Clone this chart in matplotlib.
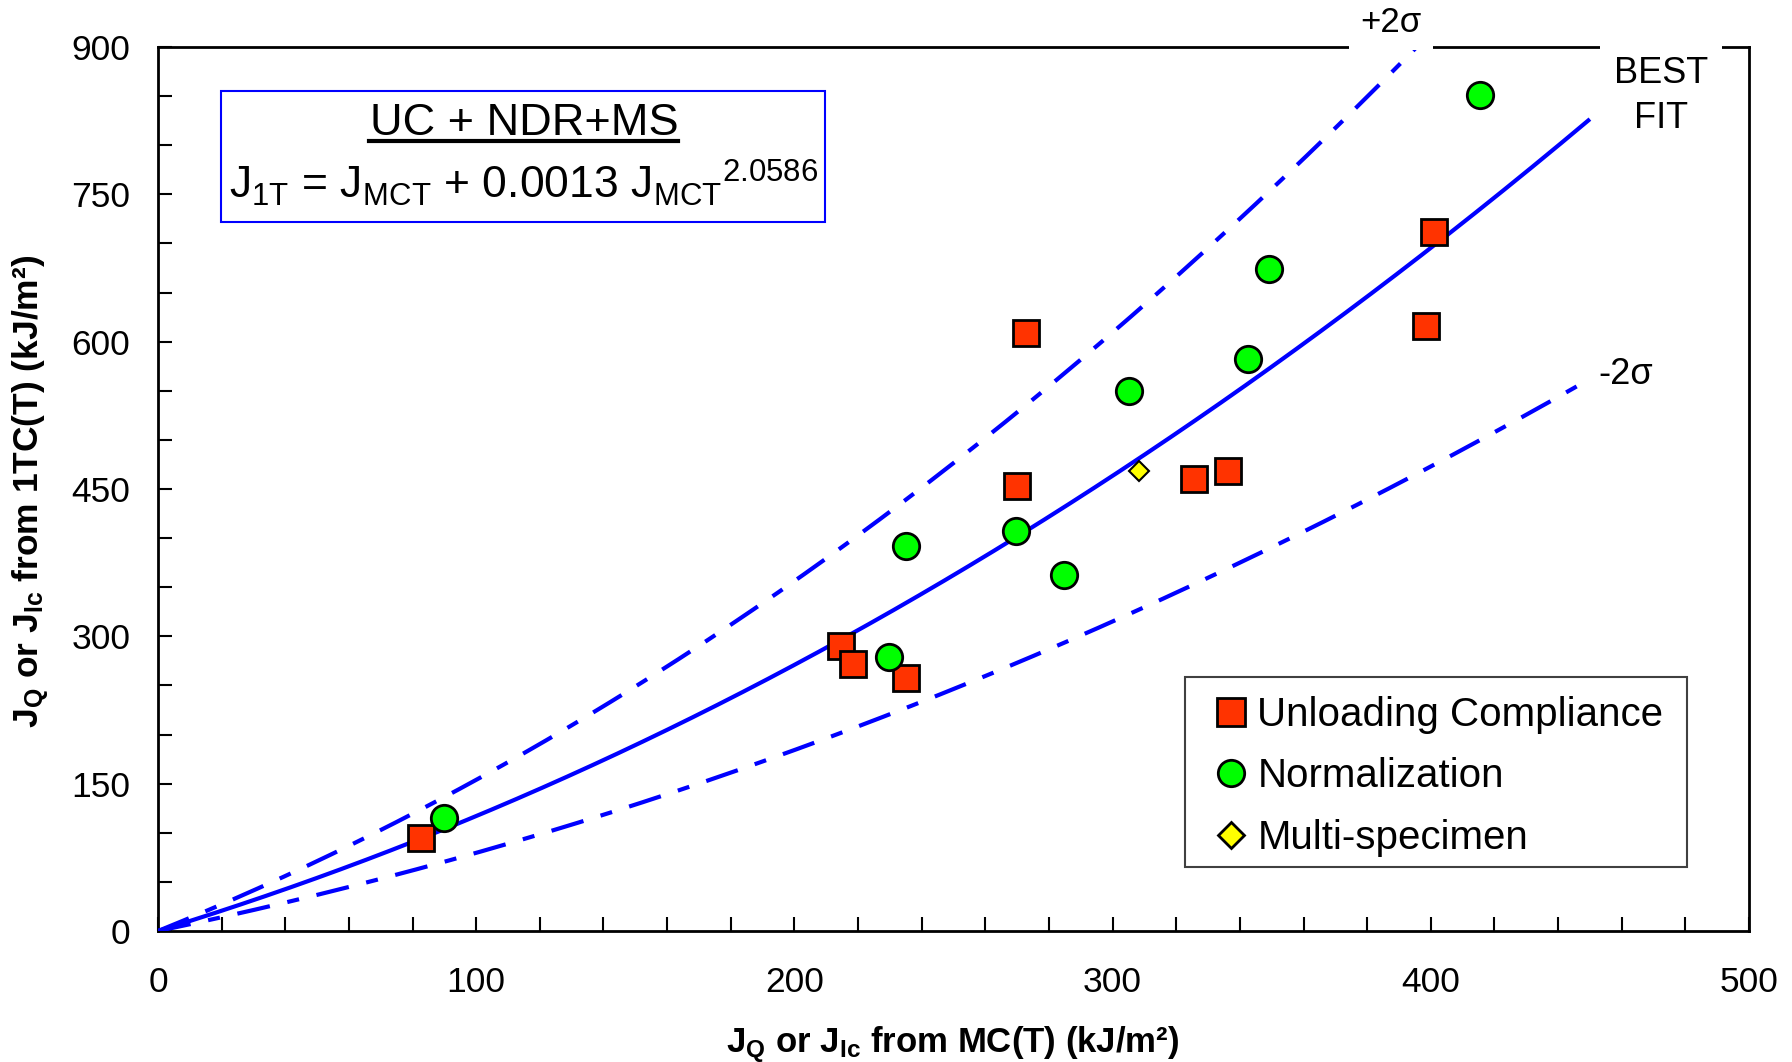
import numpy as np
import matplotlib
matplotlib.use("Agg")
import matplotlib.pyplot as plt
from matplotlib.lines import Line2D
from matplotlib.patches import Rectangle

plt.rcParams['font.family'] = ['Liberation Sans', 'DejaVu Sans']
plt.rcParams['mathtext.fontset'] = 'custom'
plt.rcParams['mathtext.rm'] = 'Liberation Sans'
plt.rcParams['mathtext.it'] = 'Liberation Sans:italic'
plt.rcParams['mathtext.bf'] = 'Liberation Sans:bold'

# ---- data ----
uc_x = [82.8, 214.7, 218.3, 235.2, 270.0, 272.9, 325.7, 336.4, 398.6, 401.0]
uc_y = [95, 290, 272, 258, 453, 609, 460, 468, 616, 712]
nd_x = [90.0, 229.8, 235.2, 269.6, 284.7, 305.2, 342.6, 349.0, 415.5]
nd_y = [115, 279, 392, 407, 362, 550, 582, 674, 851]
ms_x = [308.4]
ms_y = [468]

# best fit shown on chart: J1T = J + A * J^B ; +/-2 sigma bands as multiplicative factors
FIT_A = 0.0013
FIT_B = 2.0586
UPPER_FACTOR = 1.315
LOWER_FACTOR = 0.68
X_FIT_MAX = 450

xticks = [0, 100, 200, 300, 400, 500]
yticks = [0, 150, 300, 450, 600, 750, 900]

BLUE = '#0000FF'
W, H = 1792, 1062


def fx(x):
    return x / W


def fy(y):
    return 1 - y / H


fig = plt.figure(figsize=(17.92, 10.62), dpi=100)
ax = fig.add_axes([fx(158), fy(931), fx(1749) - fx(158), fy(47) - fy(931)])

xf = np.linspace(0, X_FIT_MAX, 400)
fit = xf + FIT_A * xf ** FIT_B
ax.plot(xf, fit, color=BLUE, lw=3, zorder=3, solid_capstyle='butt')
ax.plot(xf, fit * UPPER_FACTOR, color=BLUE, lw=3, zorder=3,
        dashes=(8, 4.3, 2.9, 4.3))
ax.plot(xf, fit * LOWER_FACTOR, color=BLUE, lw=3, zorder=3,
        dashes=(8, 4.3, 2.9, 4.3))

ax.plot(uc_x, uc_y, 's', ms=18.5, mfc='#FF3300', mec='black', mew=2, ls='none', zorder=5)
ax.plot(nd_x, nd_y, 'o', ms=19, mfc='#00FF00', mec='black', mew=2, ls='none', zorder=5)
ax.plot(ms_x, ms_y, 'D', ms=10.5, mfc='#FFFF00', mec='black', mew=1.5, ls='none', zorder=5)

ax.set_xlim(0, 500)
ax.set_ylim(0, 900)
ax.set_xticks(xticks)
ax.set_yticks(yticks)
ax.set_xticks(np.arange(0, 501, 20), minor=True)
ax.set_yticks(np.arange(0, 901, 50), minor=True)
ax.tick_params(which='both', direction='in', width=1.5, labelsize=25.5, length=10)
ax.tick_params(axis='x', which='major', pad=25)
ax.tick_params(axis='y', which='major', pad=20)
for s in ax.spines.values():
    s.set_linewidth(2)

ax.set_xlabel(r'J$_\mathbf{Q}$ or J$_\mathbf{Ic}$ from MC(T) (kJ/m²)',
              fontsize=25, fontweight='bold')
ax.xaxis.label.set_va('baseline')
ax.xaxis.set_label_coords((953 - 158) / 1591, (931 - 1052) / 884)
ax.set_ylabel(r'J$_\mathbf{Q}$ or J$_\mathbf{Ic}$ from 1TC(T) (kJ/m²)',
              fontsize=25.5, fontweight='bold')
ax.yaxis.label.set_va('center')
ax.yaxis.set_label_coords((31 - 158) / 1591, (931 - 491) / 884)

# equation box
fig.add_artist(Rectangle((fx(221), fy(222)), fx(825) - fx(221), fy(91) - fy(222),
                         transform=fig.transFigure, fc='white', ec=BLUE, lw=1.5, zorder=6))
fig.text(fx(524), fy(135), 'UC + NDR+MS', ha='center', va='baseline', fontsize=32.5, zorder=7)
fig.add_artist(Line2D([fx(369), fx(678)], [fy(141), fy(141)], transform=fig.transFigure,
                      color='black', lw=3, zorder=7))
fig.text(fx(229), fy(198),
         r'J$_\mathrm{1T}$ = J$_\mathrm{MCT}$ + 0.0013 J$_\mathrm{MCT}$${}^\mathrm{2.0586}$',
         ha='left', va='baseline', fontsize=32, zorder=7)

# curve labels
fig.text(fx(1391), fy(22), '+2σ', fontsize=25, ha='center', va='center',
         bbox=dict(fc='white', ec='none', pad=8), zorder=8)
fig.text(fx(1661), fy(96), 'BEST\nFIT', fontsize=26, ha='center', va='center',
         bbox=dict(fc='white', ec='none', pad=10), linespacing=1.4, zorder=8)
fig.text(fx(1626), fy(374), '-2σ', fontsize=26, ha='center', va='center',
         bbox=dict(fc='white', ec='none', pad=8), zorder=8)

# legend frame drawn separately, legend entries without frame
fig.add_artist(Rectangle((fx(1185), fy(867)), fx(1687) - fx(1185), fy(677) - fy(867),
                         transform=fig.transFigure, fc='white', ec='#404040', lw=1.5, zorder=8))
handles = [
    Line2D([], [], marker='s', ms=20, mfc='#FF3300', mec='black', mew=2, ls='none'),
    Line2D([], [], marker='o', ms=19, mfc='#00FF00', mec='black', mew=2, ls='none'),
    Line2D([], [], marker='D', ms=13, mfc='#FFFF00', mec='black', mew=2, ls='none'),
]
leg = fig.legend(handles, ['Unloading Compliance', 'Normalization', 'Multi-specimen'],
                 loc='upper left', bbox_to_anchor=(fx(1211), fy(696)),
                 bbox_transform=fig.transFigure,
                 fontsize=29, frameon=False,
                 handletextpad=0.15, handlelength=1.0, borderpad=0, labelspacing=0.58,
                 borderaxespad=0)
leg.set_zorder(9)

fig.savefig('out.png', dpi=100, facecolor='white')
